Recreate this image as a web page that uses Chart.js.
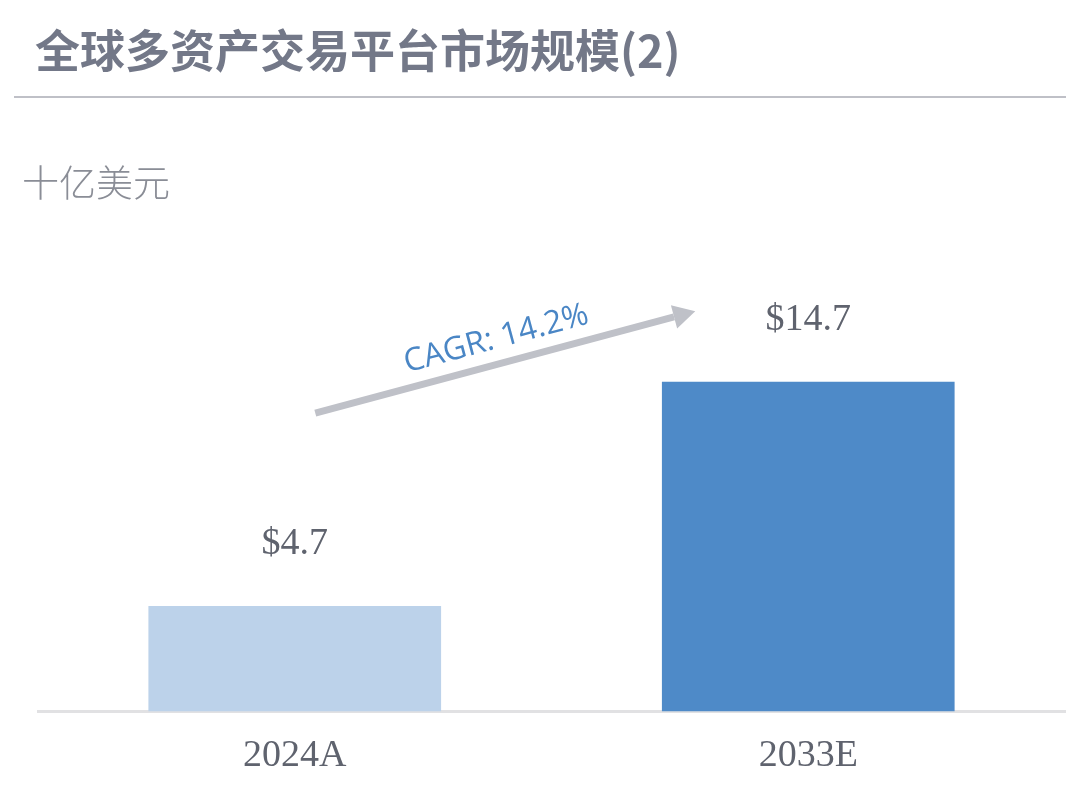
<!DOCTYPE html>
<html lang="zh">
<head>
<meta charset="utf-8">
<title>全球多资产交易平台市场规模(2)</title>
<script src="https://cdn.jsdelivr.net/npm/chart.js@4.4.1/dist/chart.umd.min.js"></script>
<style>
    html, body { margin: 0; padding: 0; background: #ffffff; }
    #wrap { position: relative; width: 1083px; height: 800px; overflow: hidden; }
    #title {
        position: absolute; left: 35px; top: 19px;
        font: bold 45px/60px "Noto Sans CJK SC", "Noto Sans", sans-serif;
        color: #737888; white-space: nowrap;
    }
    #rule { position: absolute; left: 14px; top: 96px; width: 1052px; height: 2px; background: #bfc0c7; }
    #unit {
        position: absolute; left: 22px; top: 159px;
        font: 300 37px/44px "Noto Sans CJK SC", sans-serif;
        color: #8a8d96; white-space: nowrap;
    }
    #chart { position: absolute; left: 0; top: 0; }
</style>
</head>
<body>
<div id="wrap">
    <canvas id="chart" width="1083" height="800"></canvas>
    <div id="title">全球多资产交易平台市场规模(2)</div>
    <div id="rule"></div>
    <div id="unit">十亿美元</div>
</div>
<script>
// Market size, USD bn
const categories = ['2024A', '2033E'];
const values = [4.7, 14.7];
const barColors = ['#bcd2ea', '#4e8ac8'];
const cagrText = 'CAGR: 14.2%';

// value labels above the bars + CAGR arrow
const overlayPlugin = {
    id: 'overlay',
    afterDatasetsDraw(chart) {
        const ctx = chart.ctx;
        const xs = chart.scales.x;
        const ys = chart.scales.y;
        const meta = chart.getDatasetMeta(0);

        ctx.save();
        ctx.font = '38px "Liberation Serif", serif';
        ctx.fillStyle = '#5f636e';
        ctx.textAlign = 'center';
        ctx.textBaseline = 'middle';
        meta.data.forEach(function(bar, i) {
            ctx.fillText('$' + values[i].toFixed(1), bar.x, bar.y - 62);
        });

        // arrow, placed in data units
        const x0 = xs.getPixelForValue(0.04), y0 = ys.getPixelForValue(13.3);
        const x1 = xs.getPixelForValue(0.78), y1 = ys.getPixelForValue(17.85);
        const ang = Math.atan2(y1 - y0, x1 - x0);
        const headLen = 22, headHalf = 12;
        const bx = x1 - headLen * Math.cos(ang), by = y1 - headLen * Math.sin(ang);

        ctx.strokeStyle = '#bfc1c8';
        ctx.fillStyle = '#bfc1c8';
        ctx.lineWidth = 7;
        ctx.beginPath();
        ctx.moveTo(x0, y0);
        ctx.lineTo(bx, by);
        ctx.stroke();
        ctx.beginPath();
        ctx.moveTo(x1, y1);
        ctx.lineTo(bx + headHalf * Math.sin(ang), by - headHalf * Math.cos(ang));
        ctx.lineTo(bx - headHalf * Math.sin(ang), by + headHalf * Math.cos(ang));
        ctx.closePath();
        ctx.fill();

        // rotated CAGR label
        ctx.translate((x0 + x1) / 2 - 3, (y0 + y1) / 2 - 1);
        ctx.rotate(ang);
        ctx.font = '32px "Open Sans", sans-serif';
        ctx.fillStyle = '#4a86c5';
        ctx.fillText(cagrText, 0, -23);
        ctx.restore();
    }
};

const ctx = document.getElementById('chart').getContext('2d');
new Chart(ctx, {
    type: 'bar',
    data: {
        labels: categories,
        datasets: [{
            data: values,
            backgroundColor: barColors,
            borderWidth: 0,
            barPercentage: 0.57,
            categoryPercentage: 1.0
        }]
    },
    options: {
        responsive: false,
        animation: false,
        layout: { padding: { left: 38, right: 18, top: 263, bottom: 7 } },
        plugins: {
            legend: { display: false },
            tooltip: { enabled: false }
        },
        scales: {
            x: {
                grid: { display: false },
                border: { color: '#e1e1e3', width: 3 },
                ticks: {
                    color: '#5f636e',
                    padding: 14,
                    font: { family: '"Liberation Serif", serif', size: 38 }
                }
            },
            y: { display: false, min: 0, max: 20 }
        }
    },
    plugins: [overlayPlugin]
});
</script>
</body>
</html>
